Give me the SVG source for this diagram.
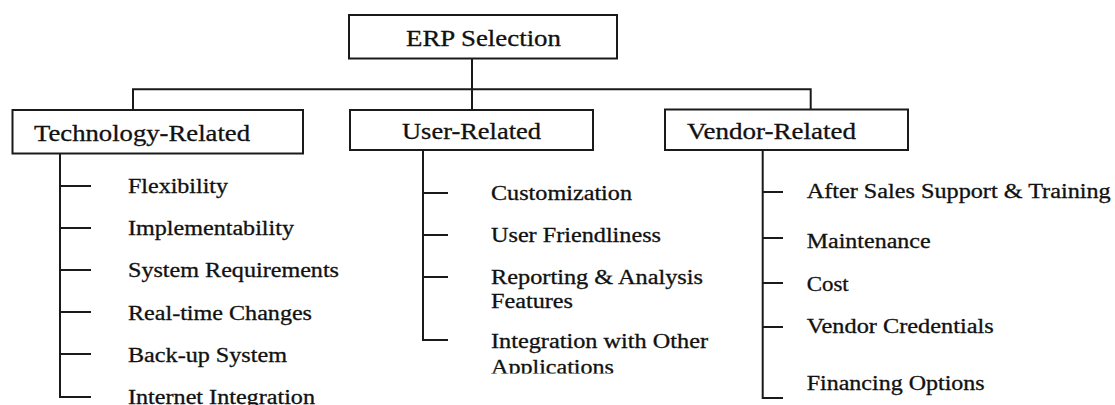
<svg xmlns="http://www.w3.org/2000/svg" width="1115" height="405" viewBox="0 0 1115 405">
<style>
.box{fill:#fff;stroke:#1a1a1a;stroke-width:2}
.ln{fill:none;stroke:#1a1a1a;stroke-width:2}
.t{font-family:"Liberation Serif","Times New Roman",serif;fill:#111;stroke:#111;stroke-width:0.3}
.h{font-size:23px}
.i{font-size:20px}
</style>
<defs>
<clipPath id="clipApp"><rect x="480" y="350" width="260" height="23.5"/></clipPath>
</defs>
<rect width="1115" height="405" fill="#fff"/>
<g id="connectors">
<path class="ln" d="M472 58.5V110M133 89.3H810.7M133 88.3V110M810.7 88.3V109.5"/>
<path class="ln" d="M60 153.5V397H91M60 186H91M60 228H91M60 270H91M60 312H91M60 354H91"/>
<path class="ln" d="M423 150V340H448M423 193H448M423 235H448M423 277H448"/>
<path class="ln" d="M762.7 150V398H783M762.7 192H783M762.7 238H783M762.7 283H783M762.7 327H783"/>
</g>
<g id="erp-selection">
<rect class="box" x="349" y="15" width="268" height="43.5"/>
<text class="t h" x="406" y="46" textLength="155" lengthAdjust="spacingAndGlyphs">ERP Selection</text>
</g>
<g id="technology-related">
<rect class="box" x="12.5" y="110" width="290.5" height="43.5"/>
<text class="t h" x="34" y="140.5" textLength="216" lengthAdjust="spacingAndGlyphs">Technology-Related</text>
</g>
<g id="user-related">
<rect class="box" x="350" y="110" width="243" height="40"/>
<text class="t h" x="402" y="138.5" textLength="139" lengthAdjust="spacingAndGlyphs">User-Related</text>
</g>
<g id="vendor-related">
<rect class="box" x="665" y="109.5" width="243" height="40.5"/>
<text class="t h" x="687" y="138.5" textLength="169" lengthAdjust="spacingAndGlyphs">Vendor-Related</text>
</g>
<g id="tech-items" class="t i">
<text x="128" y="193" textLength="100" lengthAdjust="spacingAndGlyphs">Flexibility</text>
<text x="128" y="235" textLength="166" lengthAdjust="spacingAndGlyphs">Implementability</text>
<text x="128" y="277" textLength="211" lengthAdjust="spacingAndGlyphs">System Requirements</text>
<text x="128" y="320" textLength="184" lengthAdjust="spacingAndGlyphs">Real-time Changes</text>
<text x="128" y="362" textLength="159" lengthAdjust="spacingAndGlyphs">Back-up System</text>
<text x="128" y="403.5" textLength="187" lengthAdjust="spacingAndGlyphs">Internet Integration</text>
</g>
<g id="user-items" class="t i">
<text x="491" y="200" textLength="141" lengthAdjust="spacingAndGlyphs">Customization</text>
<text x="491" y="242" textLength="170" lengthAdjust="spacingAndGlyphs">User Friendliness</text>
<text x="491" y="284" textLength="212" lengthAdjust="spacingAndGlyphs">Reporting &amp; Analysis</text>
<text x="491" y="308" textLength="82" lengthAdjust="spacingAndGlyphs">Features</text>
<text x="491" y="348" textLength="217" lengthAdjust="spacingAndGlyphs">Integration with Other</text>
<text x="491" y="373.5" textLength="123" lengthAdjust="spacingAndGlyphs" clip-path="url(#clipApp)">Applications</text>
</g>
<g id="vendor-items" class="t i">
<text x="806.7" y="198.3" textLength="304" lengthAdjust="spacingAndGlyphs">After Sales Support &amp; Training</text>
<text x="806.7" y="248.3" textLength="124" lengthAdjust="spacingAndGlyphs">Maintenance</text>
<text x="806.7" y="290.7" textLength="42" lengthAdjust="spacingAndGlyphs">Cost</text>
<text x="806.7" y="333" textLength="187" lengthAdjust="spacingAndGlyphs">Vendor Credentials</text>
<text x="806.7" y="390" textLength="178" lengthAdjust="spacingAndGlyphs">Financing Options</text>
</g>
</svg>
